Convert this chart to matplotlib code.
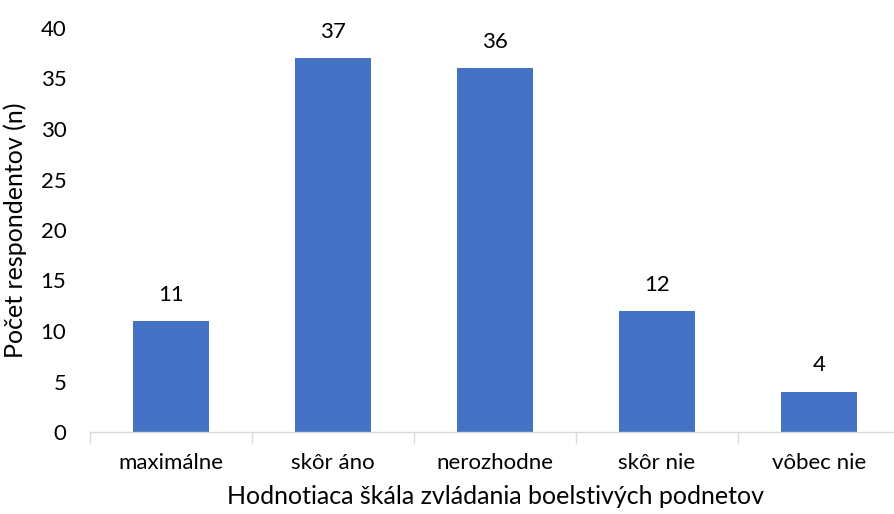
import matplotlib
matplotlib.use("Agg")
import matplotlib.pyplot as plt
import numpy as np

categories = ["maximálne", "skôr áno", "nerozhodne", "skôr nie", "vôbec nie"]
counts = [11, 37, 36, 12, 4]
y_ticks = [0, 5, 10, 15, 20, 25, 30, 35, 40]

plt.rcParams["font.family"] = ["Lato", "DejaVu Sans"]

fig = plt.figure(figsize=(8.94, 5.14), dpi=100)
ax = fig.add_axes([90 / 894, 1 - 432 / 514, 810 / 894, 404 / 514])

x = np.arange(len(categories))
ax.bar(x, counts, width=0.47, color="#4472C4", zorder=2)

for xi, v in zip(x, counts):
    ax.text(xi, v + 1.6, str(v), ha="center", va="bottom", fontsize=16, color="#000000")

ax.set_xlim(-0.5, len(categories) - 0.5)
ax.set_ylim(0, 40)
ax.set_yticks(y_ticks)
ax.set_yticklabels([str(t) for t in y_ticks], fontsize=16)

ax.set_xticks(x)
ax.set_xticklabels(categories, fontsize=16)
ax.tick_params(axis="x", length=0, pad=15)
ax.tick_params(axis="y", length=0, pad=17)

# category divider ticks under the axis
ax.set_xticks(np.arange(-0.5, len(categories), 1.0), minor=True)
ax.tick_params(axis="x", which="minor", length=8, color="#D9D9D9", width=1)

for side in ["top", "right", "left"]:
    ax.spines[side].set_visible(False)
ax.spines["bottom"].set_color("#D9D9D9")
ax.spines["bottom"].set_linewidth(1)

ax.set_ylabel("Počet respondentov (n)", fontsize=18, labelpad=10)
ax.set_xlabel("Hodnotiaca škála zvládania boelstivých podnetov", fontsize=18, labelpad=9)

fig.savefig("out.png", dpi=100)
